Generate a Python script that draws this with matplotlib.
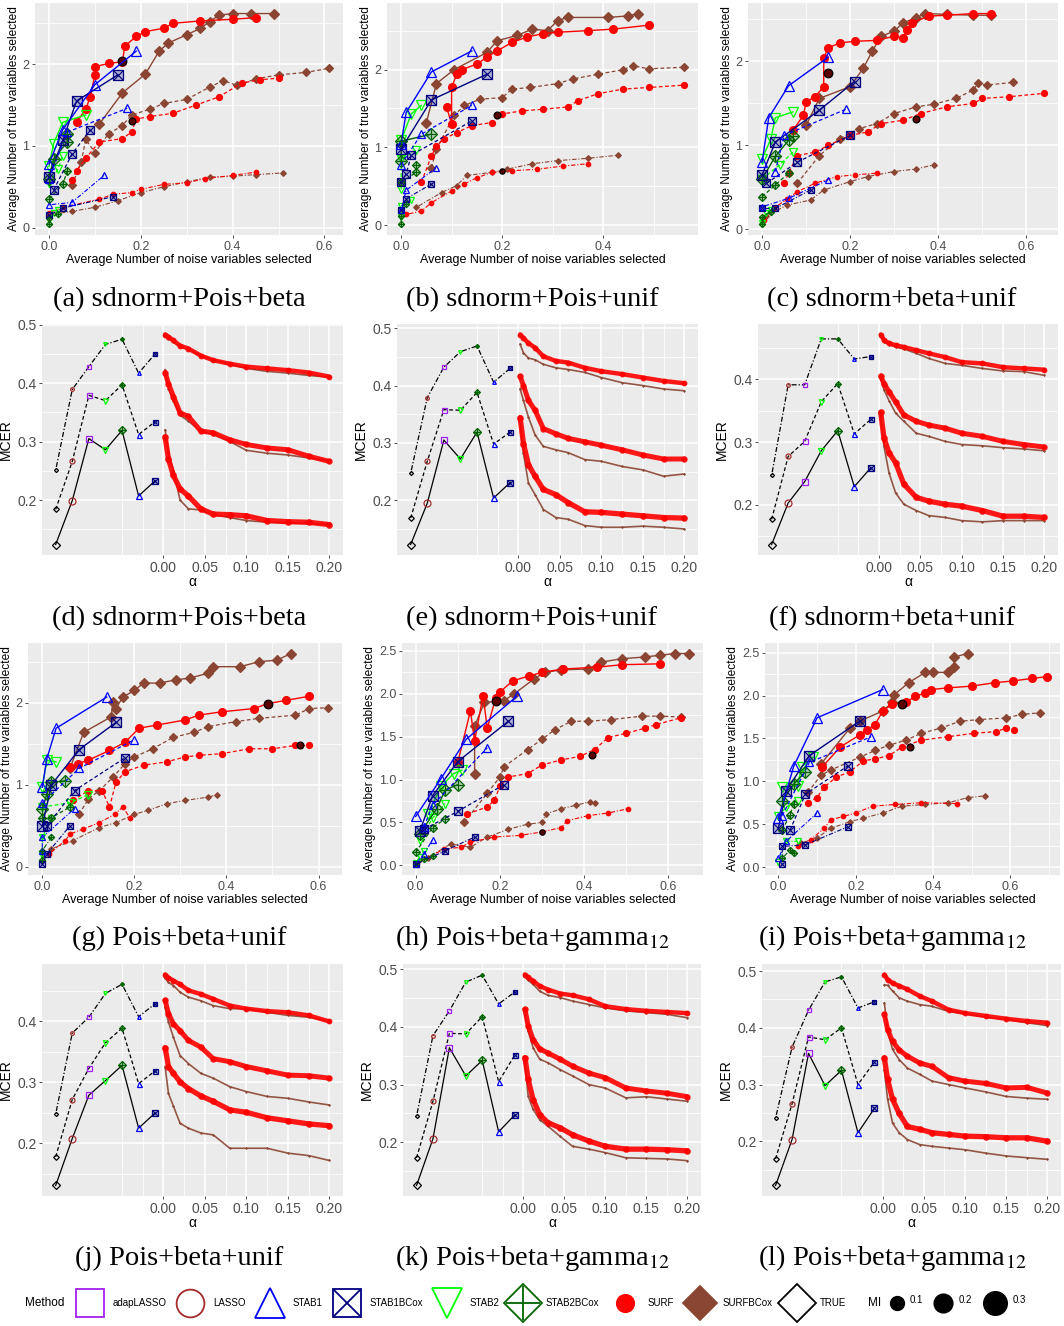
import numpy as np
import matplotlib
matplotlib.use("Agg")
import matplotlib.pyplot as plt

plt.rcParams["font.family"] = ["Liberation Sans", "DejaVu Sans"]
plt.rcParams["mathtext.fontset"] = "stix"

MI = [0.1, 0.2, 0.3]

# ---------------- selection panels: (noise, true) pairs, one curve per MI ----------------
a_surf = [
    [(0.0, 0.18), (0.03, 0.25), (0.11, 0.35), (0.14, 0.41), (0.18, 0.43), (0.2, 0.47), (0.25, 0.53), (0.3, 0.55), (0.34, 0.6), (0.4, 0.64), (0.45, 0.68)],
    [(0.05, 0.58), (0.06, 0.7), (0.08, 0.85), (0.11, 1.05), (0.16, 1.09), (0.18, 1.17), (0.19, 1.33), (0.22, 1.36), (0.27, 1.4), (0.32, 1.5), (0.37, 1.6), (0.42, 1.77), (0.46, 1.81), (0.5, 1.83)],
    [(0.06, 1.29), (0.08, 1.45), (0.09, 1.6), (0.1, 1.87), (0.1, 1.97), (0.13, 2.01), (0.16, 2.03), (0.165, 2.22), (0.19, 2.34), (0.21, 2.4), (0.25, 2.44), (0.27, 2.5), (0.33, 2.53), (0.4, 2.55), (0.45, 2.57)],
]
a_bcox = [
    [(0.0, 0.16), (0.05, 0.2), (0.1, 0.25), (0.15, 0.33), (0.2, 0.43), (0.25, 0.5), (0.3, 0.56), (0.35, 0.62), (0.4, 0.63), (0.45, 0.65), (0.51, 0.67)],
    [(0.05, 0.52), (0.07, 0.8), (0.08, 1.08), (0.1, 0.92), (0.13, 1.15), (0.16, 1.25), (0.18, 1.38), (0.22, 1.45), (0.25, 1.52), (0.3, 1.57), (0.35, 1.72), (0.38, 1.8), (0.41, 1.74), (0.45, 1.82), (0.5, 1.87), (0.56, 1.9), (0.61, 1.95)],
    [(0.11, 1.27), (0.16, 1.65), (0.21, 1.88), (0.24, 2.16), (0.26, 2.26), (0.3, 2.36), (0.33, 2.44), (0.35, 2.52), (0.37, 2.6), (0.4, 2.62), (0.44, 2.62), (0.49, 2.62)],
]
a_stab1 = [[(0.0, 0.28), (0.05, 0.31), (0.12, 0.64)], [(0.0, 0.6), (0.04, 1.17), (0.17, 1.46)], [(0.0, 0.78), (0.03, 1.2), (0.1, 1.75), (0.19, 2.16)]]
a_stab1b = [[(0.0, 0.15), (0.03, 0.24), (0.14, 0.38)], [(0.01, 0.46), (0.05, 0.9), (0.09, 1.2)], [(0.0, 0.62), (0.03, 1.07), (0.06, 1.55), (0.15, 1.87)]]
a_stab2 = [[(0.0, 0.1), (0.01, 0.18), (0.02, 0.22)], [(0.0, 0.55), (0.02, 0.72), (0.03, 0.88)], [(0.0, 0.75), (0.01, 1.03), (0.03, 1.29), (0.08, 1.38)]]
a_stab2b = [[(0.0, 0.04), (0.0, 0.12), (0.02, 0.17)], [(0.0, 0.35), (0.03, 0.53), (0.04, 0.7)], [(0.0, 0.6), (0.01, 0.84), (0.04, 1.05), (0.04, 1.15)]]
a_mark = [(0.18, 1.3, 1), (0.16, 2.04, 2)]

b_surf = [
    [(0.01, 0.14), (0.04, 0.18), (0.06, 0.29), (0.1, 0.44), (0.125, 0.53), (0.15, 0.61), (0.18, 0.68), (0.22, 0.7), (0.27, 0.72), (0.32, 0.76), (0.37, 0.79)],
    [(0.04, 0.55), (0.06, 0.89), (0.07, 1.02), (0.085, 1.11), (0.11, 1.19), (0.14, 1.28), (0.18, 1.32), (0.2, 1.43), (0.24, 1.47), (0.28, 1.49), (0.33, 1.52), (0.35, 1.6), (0.39, 1.69), (0.44, 1.75), (0.49, 1.77), (0.56, 1.8)],
    [(0.09, 1.52), (0.1, 1.3), (0.1, 1.77), (0.11, 1.94), (0.12, 2.0), (0.15, 2.07), (0.17, 2.16), (0.19, 2.24), (0.22, 2.35), (0.25, 2.42), (0.28, 2.46), (0.31, 2.48), (0.37, 2.5), (0.42, 2.52), (0.49, 2.57)],
]
b_bcox = [
    [(0.03, 0.23), (0.08, 0.42), (0.11, 0.51), (0.13, 0.64), (0.18, 0.68), (0.21, 0.72), (0.26, 0.79), (0.31, 0.83), (0.37, 0.86), (0.43, 0.9)],
    [(0.06, 0.74), (0.07, 0.98), (0.105, 1.41), (0.125, 1.54), (0.157, 1.62), (0.2, 1.64), (0.22, 1.75), (0.256, 1.77), (0.31, 1.82), (0.34, 1.88), (0.39, 1.94), (0.44, 2.0), (0.46, 2.05), (0.49, 2.01), (0.56, 2.03)],
    [(0.05, 1.32), (0.07, 1.82), (0.105, 2.0), (0.17, 2.22), (0.19, 2.37), (0.23, 2.44), (0.26, 2.52), (0.29, 2.5), (0.31, 2.63), (0.33, 2.67), (0.41, 2.67), (0.45, 2.69), (0.47, 2.72)],
]
b_stab1 = [[(0.0, 0.2), (0.01, 0.45), (0.07, 0.74)], [(0.0, 0.78), (0.04, 1.17), (0.14, 1.54)], [(0.0, 1.05), (0.01, 1.45), (0.06, 1.97), (0.14, 2.24)]]
b_stab1b = [[(0.0, 0.2), (0.01, 0.34), (0.06, 0.53)], [(0.0, 0.55), (0.01, 0.66), (0.02, 0.9), (0.14, 1.34)], [(0.0, 0.98), (0.06, 1.61), (0.17, 1.94)]]
b_stab2 = [[(0.0, 0.1), (0.0, 0.25), (0.02, 0.33)], [(0.0, 0.46), (0.0, 0.85), (0.03, 0.97)], [(0.0, 1.09), (0.02, 1.43), (0.04, 1.54)]]
b_stab2b = [[(0.0, 0.01), (0.0, 0.12), (0.01, 0.27)], [(0.0, 0.55), (0.03, 0.68), (0.03, 0.78)], [(0.0, 0.83), (0.0, 1.08), (0.06, 1.17)]]
b_mark = [(0.2, 0.7, 0), (0.19, 1.41, 1)]

c_surf = [
    [(0.004, 0.11), (0.026, 0.25), (0.056, 0.36), (0.08, 0.45), (0.12, 0.55), (0.17, 0.63), (0.21, 0.65), (0.26, 0.67)],
    [(0.05, 0.55), (0.06, 0.67), (0.08, 0.88), (0.12, 0.92), (0.15, 1.0), (0.2, 1.12), (0.24, 1.16), (0.27, 1.26), (0.32, 1.3), (0.36, 1.38), (0.42, 1.46), (0.48, 1.5), (0.5, 1.56), (0.56, 1.58), (0.64, 1.62)],
    [(0.07, 1.18), (0.094, 1.36), (0.1, 1.52), (0.12, 1.58), (0.14, 1.7), (0.14, 2.04), (0.15, 2.16), (0.176, 2.22), (0.21, 2.24), (0.26, 2.25), (0.3, 2.3), (0.32, 2.28), (0.33, 2.38), (0.34, 2.46), (0.38, 2.54), (0.42, 2.55), (0.48, 2.57), (0.52, 2.57)],
]
c_bcox = [
    [(0.01, 0.16), (0.056, 0.29), (0.11, 0.35), (0.14, 0.47), (0.2, 0.57), (0.24, 0.63), (0.3, 0.69), (0.35, 0.72), (0.39, 0.77)],
    [(0.08, 0.55), (0.13, 0.88), (0.176, 1.08), (0.22, 1.2), (0.26, 1.26), (0.3, 1.38), (0.35, 1.46), (0.39, 1.49), (0.44, 1.56), (0.48, 1.66), (0.49, 1.74), (0.51, 1.72), (0.57, 1.75)],
    [(0.1, 1.24), (0.13, 1.56), (0.2, 1.7), (0.23, 1.92), (0.25, 2.12), (0.27, 2.3), (0.3, 2.36), (0.32, 2.46), (0.35, 2.52), (0.37, 2.57), (0.42, 2.56), (0.48, 2.55), (0.52, 2.55)],
]
c_stab1 = [[(0.0, 0.27), (0.06, 0.37), (0.15, 0.59)], [(0.03, 0.69), (0.05, 1.12), (0.19, 1.43)], [(0.0, 0.8), (0.015, 1.33), (0.06, 1.71), (0.15, 2.05)]]
c_stab1b = [[(0.0, 0.25), (0.03, 0.25), (0.11, 0.47)], [(0.01, 0.55), (0.08, 0.8), (0.2, 1.12)], [(0.0, 0.65), (0.03, 1.04), (0.13, 1.42), (0.21, 1.76)]]
c_stab2 = [[(0.0, 0.08), (0.01, 0.2), (0.02, 0.23)], [(0.0, 0.6), (0.04, 0.77), (0.07, 0.92)], [(0.0, 0.84), (0.02, 1.08), (0.03, 1.33), (0.07, 1.4)]]
c_stab2b = [[(0.0, 0.06), (0.0, 0.15), (0.02, 0.21)], [(0.0, 0.39), (0.03, 0.53), (0.06, 0.67)], [(0.0, 0.6), (0.03, 0.87), (0.06, 1.06), (0.07, 1.11)]]
c_mark = [(0.35, 1.31, 1), (0.15, 1.86, 2)]

g_surf = [
    [(0.015, 0.16), (0.05, 0.32), (0.06, 0.4), (0.088, 0.46), (0.124, 0.54), (0.157, 0.64), (0.175, 0.73), (0.19, 0.6)],
    [(0.066, 0.81), (0.1, 0.93), (0.13, 0.93), (0.146, 0.73), (0.16, 1.03), (0.18, 1.16), (0.22, 1.24), (0.27, 1.28), (0.31, 1.34), (0.34, 1.36), (0.39, 1.38), (0.45, 1.44), (0.5, 1.44), (0.55, 1.48), (0.58, 1.48)],
    [(0.06, 1.22), (0.077, 1.26), (0.1, 1.3), (0.146, 1.42), (0.18, 1.52), (0.21, 1.69), (0.25, 1.73), (0.31, 1.79), (0.34, 1.85), (0.39, 1.89), (0.46, 1.93), (0.49, 1.99), (0.53, 2.03), (0.58, 2.08)],
]
g_bcox = [
    [(0.02, 0.22), (0.066, 0.32), (0.124, 0.48), (0.16, 0.54), (0.2, 0.64), (0.23, 0.69), (0.27, 0.77), (0.31, 0.81), (0.36, 0.85), (0.38, 0.88)],
    [(0.08, 0.64), (0.1, 0.83), (0.124, 0.93), (0.153, 1.09), (0.18, 1.26), (0.2, 1.34), (0.24, 1.44), (0.285, 1.58), (0.33, 1.64), (0.36, 1.71), (0.42, 1.77), (0.47, 1.81), (0.55, 1.85), (0.58, 1.93), (0.62, 1.94)],
    [(0.06, 1.2), (0.09, 1.64), (0.15, 1.83), (0.153, 2.01), (0.16, 1.93), (0.175, 2.07), (0.2, 2.15), (0.22, 2.24), (0.255, 2.24), (0.29, 2.28), (0.32, 2.3), (0.36, 2.36), (0.37, 2.44), (0.43, 2.44), (0.47, 2.5), (0.51, 2.52), (0.54, 2.6)],
]
g_stab1 = [[(0.0, 0.2), (0.0, 0.36), (0.07, 0.71)], [(0.0, 0.78), (0.08, 1.2), (0.2, 1.55)], [(0.0, 0.97), (0.01, 1.32), (0.03, 1.69), (0.14, 2.07)]]
g_stab1b = [[(0.0, 0.03), (0.01, 0.16), (0.06, 0.5)], [(0.01, 0.5), (0.07, 0.93), (0.18, 1.33)], [(0.0, 0.5), (0.02, 1.0), (0.08, 1.43), (0.16, 1.76)]]
g_stab2 = [[(0.0, 0.15), (0.0, 0.36), (0.02, 0.6)], [(0.0, 0.73), (0.06, 0.78), (0.1, 0.88)], [(0.0, 0.97), (0.01, 1.3), (0.03, 1.28)]]
g_stab2b = [[(0.0, 0.09), (0.0, 0.2), (0.02, 0.36)], [(0.0, 0.6), (0.02, 0.6), (0.06, 0.73)], [(0.0, 0.7), (0.01, 0.89), (0.02, 1.03), (0.05, 1.05)]]
g_mark = [(0.56, 1.48, 1), (0.49, 1.98, 2)]

h_surf = [
    [(0.004, 0.03), (0.068, 0.19), (0.107, 0.21), (0.13, 0.27), (0.187, 0.33), (0.25, 0.35), (0.3, 0.39), (0.346, 0.44), (0.36, 0.52), (0.41, 0.58), (0.457, 0.61), (0.505, 0.66)],
    [(0.123, 0.6), (0.17, 0.68), (0.187, 0.76), (0.2, 0.92), (0.22, 1.03), (0.266, 1.07), (0.3, 1.17), (0.346, 1.23), (0.39, 1.27), (0.425, 1.35), (0.457, 1.49), (0.5, 1.54), (0.545, 1.6), (0.57, 1.64), (0.63, 1.72)],
    [(0.1, 1.2), (0.13, 1.8), (0.14, 1.45), (0.16, 1.98), (0.17, 1.6), (0.19, 1.95), (0.2, 2.02), (0.23, 2.15), (0.27, 2.21), (0.3, 2.25), (0.35, 2.29), (0.43, 2.31), (0.49, 2.34), (0.58, 2.35)],
]
h_bcox = [
    [(0.03, 0.09), (0.083, 0.25), (0.13, 0.21), (0.17, 0.33), (0.22, 0.42), (0.266, 0.48), (0.3, 0.5), (0.31, 0.6), (0.346, 0.66), (0.38, 0.7), (0.413, 0.74), (0.425, 0.73)],
    [(0.115, 0.5), (0.17, 0.84), (0.2, 1.03), (0.21, 1.15), (0.266, 1.35), (0.3, 1.47), (0.33, 1.58), (0.37, 1.68), (0.41, 1.68), (0.465, 1.7), (0.537, 1.74), (0.58, 1.74), (0.63, 1.73)],
    [(0.14, 1.07), (0.14, 1.62), (0.163, 1.9), (0.21, 1.92), (0.234, 2.0), (0.28, 2.17), (0.306, 2.25), (0.346, 2.28), (0.41, 2.29), (0.44, 2.37), (0.49, 2.41), (0.545, 2.43), (0.58, 2.45), (0.616, 2.47), (0.65, 2.47)],
]
h_stab1 = [[(0.0, 0.02), (0.02, 0.13), (0.04, 0.3)], [(0.02, 0.45), (0.04, 0.7), (0.17, 1.37)], [(0.0, 0.57), (0.06, 1.01), (0.12, 1.47), (0.24, 1.97)]]
h_stab1b = [[(0.0, 0.01), (0.07, 0.17), (0.14, 0.33)], [(0.02, 0.42), (0.1, 0.63), (0.21, 0.94)], [(0.01, 0.4), (0.04, 0.81), (0.1, 1.21), (0.22, 1.68)]]
h_stab2 = [[(0.0, 0.03), (0.01, 0.1), (0.02, 0.17)], [(0.01, 0.29), (0.04, 0.55), (0.07, 0.72)], [(0.03, 0.6), (0.06, 0.92), (0.09, 1.07), (0.11, 1.11)]]
h_stab2b = [[(0.0, 0.01), (0.02, 0.07), (0.04, 0.11)], [(0.0, 0.15), (0.04, 0.44), (0.07, 0.54)], [(0.01, 0.37), (0.05, 0.66), (0.07, 0.88), (0.1, 0.94)]]
h_mark = [(0.3, 0.39, 0), (0.42, 1.29, 1), (0.19, 1.92, 2)]

i_surf = [
    [(0.05, 0.24), (0.084, 0.32), (0.118, 0.45), (0.135, 0.55), (0.168, 0.59), (0.2, 0.63), (0.244, 0.71), (0.303, 0.73), (0.37, 0.75), (0.463, 0.74)],
    [(0.076, 0.75), (0.1, 0.81), (0.118, 0.93), (0.15, 1.05), (0.185, 1.11), (0.22, 1.24), (0.25, 1.26), (0.286, 1.3), (0.32, 1.4), (0.37, 1.48), (0.44, 1.52), (0.505, 1.56), (0.564, 1.58), (0.59, 1.62), (0.61, 1.6)],
    [(0.114, 1.17), (0.16, 1.4), (0.21, 1.54), (0.23, 1.6), (0.25, 1.66), (0.27, 1.82), (0.295, 1.9), (0.33, 1.92), (0.354, 1.99), (0.38, 2.03), (0.395, 2.07), (0.44, 2.09), (0.5, 2.11), (0.56, 2.15), (0.606, 2.17), (0.657, 2.2), (0.694, 2.22)],
]
i_bcox = [
    [(0.059, 0.28), (0.1, 0.34), (0.135, 0.45), (0.185, 0.53), (0.22, 0.57), (0.27, 0.63), (0.32, 0.71), (0.38, 0.73), (0.44, 0.75), (0.49, 0.81), (0.535, 0.83)],
    [(0.076, 0.87), (0.11, 1.07), (0.135, 1.13), (0.21, 1.28), (0.25, 1.36), (0.286, 1.42), (0.33, 1.48), (0.37, 1.56), (0.42, 1.62), (0.47, 1.7), (0.52, 1.72), (0.59, 1.74), (0.63, 1.78), (0.678, 1.8)],
    [(0.11, 1.2), (0.185, 1.62), (0.21, 1.7), (0.27, 1.82), (0.295, 1.92), (0.3, 2.01), (0.337, 2.15), (0.38, 2.27), (0.4, 2.27), (0.44, 2.27), (0.455, 2.33), (0.455, 2.45), (0.49, 2.49)],
]
i_stab1 = [[(0.0, 0.1), (0.02, 0.3), (0.1, 0.63)], [(0.01, 0.6), (0.08, 1.22), (0.24, 1.52)], [(0.0, 0.57), (0.04, 1.18), (0.1, 1.74), (0.27, 2.07)]]
i_stab1b = [[(0.01, 0.03), (0.01, 0.24), (0.07, 0.26), (0.18, 0.47)], [(0.03, 0.43), (0.07, 0.85), (0.18, 1.18)], [(0.0, 0.45), (0.02, 0.89), (0.08, 1.3), (0.21, 1.7)]]
i_stab2 = [[(0.0, 0.06), (0.02, 0.3), (0.05, 0.3)], [(0.0, 0.59), (0.02, 0.7), (0.05, 0.77)], [(0.01, 0.93), (0.05, 0.95), (0.06, 1.17), (0.09, 1.28)]]
i_stab2b = [[(0.01, 0.1), (0.03, 0.2), (0.04, 0.16)], [(0.01, 0.43), (0.03, 0.61), (0.04, 0.74)], [(0.01, 0.77), (0.04, 0.97), (0.07, 1.11)]]
i_mark = [(0.34, 1.4, 1), (0.32, 1.9, 2)]

# ---------------- MCER panels ----------------
alpha = [0.002, 0.006, 0.012, 0.02, 0.03, 0.045, 0.06, 0.08, 0.10, 0.125, 0.15, 0.175, 0.2]
disc_methods = ["TRUE", "LASSO", "adapLASSO", "STAB2", "STAB2BCox", "STAB1", "STAB1BCox"]

d_disc = [[0.251, 0.389, 0.428, 0.466, 0.475, 0.417, 0.450],
          [0.184, 0.266, 0.379, 0.370, 0.397, 0.312, 0.334],
          [0.124, 0.199, 0.305, 0.286, 0.319, 0.207, 0.233]]
d_surf = [[0.483, 0.479, 0.473, 0.464, 0.459, 0.447, 0.439, 0.433, 0.428, 0.425, 0.422, 0.418, 0.411],
          [0.418, 0.399, 0.377, 0.349, 0.343, 0.318, 0.315, 0.303, 0.295, 0.289, 0.286, 0.275, 0.266],
          [0.308, 0.270, 0.242, 0.219, 0.207, 0.185, 0.176, 0.175, 0.173, 0.165, 0.163, 0.162, 0.158]]
d_bcox = [[0.480, 0.476, 0.470, 0.462, 0.458, 0.447, 0.440, 0.432, 0.425, 0.420, 0.417, 0.413, 0.410],
          [0.423, 0.390, 0.370, 0.345, 0.335, 0.318, 0.312, 0.300, 0.285, 0.280, 0.277, 0.272, 0.267],
          [0.320, 0.280, 0.250, 0.200, 0.185, 0.183, 0.175, 0.170, 0.165, 0.162, 0.161, 0.160, 0.158]]

e_disc = [[0.247, 0.379, 0.432, 0.459, 0.469, 0.406, 0.430],
          [0.169, 0.268, 0.358, 0.357, 0.388, 0.298, 0.319],
          [0.123, 0.195, 0.305, 0.272, 0.319, 0.204, 0.231]]
e_surf = [[0.489, 0.483, 0.474, 0.466, 0.451, 0.443, 0.440, 0.431, 0.425, 0.420, 0.414, 0.408, 0.404],
          [0.416, 0.400, 0.374, 0.357, 0.325, 0.316, 0.308, 0.302, 0.296, 0.288, 0.279, 0.272, 0.272],
          [0.344, 0.299, 0.262, 0.242, 0.219, 0.210, 0.196, 0.180, 0.179, 0.176, 0.173, 0.170, 0.169]]
e_bcox = [[0.472, 0.457, 0.448, 0.445, 0.437, 0.431, 0.428, 0.423, 0.414, 0.405, 0.400, 0.394, 0.391],
          [0.394, 0.374, 0.345, 0.314, 0.294, 0.288, 0.283, 0.271, 0.268, 0.259, 0.253, 0.242, 0.246],
          [0.334, 0.282, 0.230, 0.210, 0.184, 0.170, 0.167, 0.156, 0.153, 0.153, 0.155, 0.153, 0.150]]

f_disc = [[0.247, 0.391, 0.391, 0.464, 0.464, 0.432, 0.436],
          [0.177, 0.277, 0.301, 0.364, 0.393, 0.313, 0.336],
          [0.137, 0.203, 0.237, 0.286, 0.318, 0.229, 0.259]]
f_surf = [[0.471, 0.462, 0.457, 0.454, 0.451, 0.446, 0.441, 0.435, 0.427, 0.425, 0.419, 0.417, 0.415],
          [0.405, 0.393, 0.380, 0.364, 0.343, 0.333, 0.327, 0.322, 0.314, 0.309, 0.301, 0.296, 0.292],
          [0.347, 0.306, 0.283, 0.267, 0.233, 0.212, 0.206, 0.201, 0.198, 0.191, 0.182, 0.182, 0.180]]
f_bcox = [[0.469, 0.459, 0.455, 0.451, 0.448, 0.441, 0.433, 0.425, 0.422, 0.417, 0.413, 0.412, 0.406],
          [0.401, 0.383, 0.366, 0.346, 0.333, 0.314, 0.309, 0.301, 0.296, 0.294, 0.291, 0.289, 0.286],
          [0.341, 0.293, 0.251, 0.219, 0.201, 0.191, 0.183, 0.180, 0.175, 0.173, 0.175, 0.175, 0.175]]

j_disc = [[0.248, 0.381, 0.407, 0.446, 0.461, 0.408, 0.429],
          [0.178, 0.272, 0.323, 0.365, 0.389, 0.298, 0.319],
          [0.131, 0.208, 0.279, 0.303, 0.328, 0.225, 0.250]]
j_surf = [[0.477, 0.472, 0.467, 0.461, 0.451, 0.445, 0.437, 0.426, 0.421, 0.417, 0.415, 0.410, 0.400],
          [0.435, 0.413, 0.396, 0.385, 0.369, 0.358, 0.339, 0.334, 0.326, 0.319, 0.312, 0.311, 0.307],
          [0.357, 0.326, 0.315, 0.301, 0.290, 0.278, 0.269, 0.255, 0.251, 0.242, 0.237, 0.232, 0.229]]
j_bcox = [[0.471, 0.464, 0.459, 0.448, 0.440, 0.434, 0.426, 0.421, 0.421, 0.415, 0.410, 0.407, 0.401],
          [0.423, 0.399, 0.374, 0.344, 0.331, 0.315, 0.307, 0.293, 0.285, 0.277, 0.274, 0.268, 0.263],
          [0.326, 0.282, 0.261, 0.233, 0.225, 0.217, 0.214, 0.192, 0.192, 0.192, 0.184, 0.180, 0.172]]

k_disc = [[0.245, 0.385, 0.428, 0.478, 0.490, 0.440, 0.461],
          [0.173, 0.271, 0.389, 0.388, 0.418, 0.305, 0.352],
          [0.125, 0.206, 0.364, 0.315, 0.342, 0.218, 0.248]]
k_surf = [[0.491, 0.486, 0.480, 0.471, 0.465, 0.458, 0.455, 0.448, 0.436, 0.431, 0.428, 0.426, 0.424],
          [0.431, 0.402, 0.378, 0.362, 0.355, 0.344, 0.332, 0.320, 0.312, 0.294, 0.289, 0.285, 0.279],
          [0.347, 0.309, 0.274, 0.248, 0.234, 0.225, 0.213, 0.202, 0.193, 0.188, 0.188, 0.187, 0.185]]
k_bcox = [[0.488, 0.481, 0.474, 0.462, 0.455, 0.451, 0.445, 0.439, 0.433, 0.428, 0.425, 0.422, 0.416],
          [0.422, 0.393, 0.364, 0.344, 0.338, 0.326, 0.315, 0.300, 0.294, 0.277, 0.279, 0.275, 0.271],
          [0.338, 0.280, 0.257, 0.239, 0.228, 0.210, 0.193, 0.188, 0.182, 0.173, 0.172, 0.171, 0.168]]

l_disc = [[0.241, 0.366, 0.431, 0.481, 0.490, 0.435, 0.446],
          [0.169, 0.266, 0.384, 0.379, 0.400, 0.300, 0.340],
          [0.122, 0.203, 0.355, 0.298, 0.325, 0.215, 0.258]]
l_surf = [[0.494, 0.485, 0.479, 0.474, 0.468, 0.456, 0.447, 0.432, 0.426, 0.421, 0.416, 0.412, 0.409],
          [0.424, 0.397, 0.376, 0.361, 0.350, 0.338, 0.332, 0.312, 0.306, 0.302, 0.294, 0.295, 0.285],
          [0.347, 0.309, 0.274, 0.249, 0.226, 0.221, 0.215, 0.212, 0.209, 0.208, 0.206, 0.206, 0.200]]
l_bcox = [[0.476, 0.475, 0.465, 0.453, 0.447, 0.441, 0.438, 0.429, 0.425, 0.419, 0.415, 0.409, 0.404],
          [0.444, 0.394, 0.362, 0.344, 0.329, 0.318, 0.306, 0.300, 0.294, 0.287, 0.279, 0.276, 0.274],
          [0.326, 0.274, 0.232, 0.215, 0.203, 0.194, 0.191, 0.188, 0.185, 0.179, 0.174, 0.171, 0.168]]

captions = ["(a) sdnorm+Pois+beta", "(b) sdnorm+Pois+unif", "(c) sdnorm+beta+unif",
            "(d) sdnorm+Pois+beta", "(e) sdnorm+Pois+unif", "(f) sdnorm+beta+unif",
            "(g) Pois+beta+unif", "(h) Pois+beta+gamma$_{12}$", "(i) Pois+beta+gamma$_{12}$",
            "(j) Pois+beta+unif", "(k) Pois+beta+gamma$_{12}$", "(l) Pois+beta+gamma$_{12}$"]

# ---------------- styles ----------------
COL = {"adapLASSO": "#A020F0", "LASSO": "#A52A2A", "STAB1": "#0000FF", "STAB1BCox": "#000080",
       "STAB2": "#00FF00", "STAB2BCox": "#006400", "SURF": "#FF0000", "SURFBCox": "#8B4533",
       "TRUE": "#000000"}
MK = {"adapLASSO": ("s", None, False), "LASSO": ("o", None, False), "STAB1": ("^", None, False),
      "STAB1BCox": ("s", "x", False), "STAB2": ("v", None, False), "STAB2BCox": ("D", "+", False),
      "SURF": ("o", None, True), "SURFBCox": ("D", None, True), "TRUE": ("D", None, False)}
LS = [(0, (1, 1.6, 4, 1.6)), (0, (3, 2)), "-"]
BG = "#EBEBEB"
TICK_C = "#4D4D4D"

W, H = 1064, 1326
fig = plt.figure(figsize=(W / 100, H / 100), dpi=100)


def box(l, t, r, b):
    return fig.add_axes([l / W, 1 - b / H, (r - l) / W, (b - t) / H])


def style(ax, fs):
    ax.set_facecolor(BG)
    for s in ax.spines.values():
        s.set_visible(False)
    ax.set_axisbelow(True)
    ax.grid(which="major", color="white", lw=1.1)
    ax.grid(which="minor", color="white", lw=0.55)
    ax.tick_params(which="major", length=2.5, width=0.6, color="#333333",
                   labelsize=fs, labelcolor=TICK_C, pad=1.5)
    ax.tick_params(which="minor", length=0)


def points(ax, xs, ys, method, ms, z=3):
    m, inner, filled = MK[method]
    c = COL[method]
    size = ms * (0.8 if m == "D" else 1.0)
    fc = c if filled else "none"
    if method in ("STAB1BCox", "STAB2BCox"):
        fc = matplotlib.colors.to_rgba(c, 0.25)
    ax.plot(xs, ys, ls="none", marker=m, ms=size, mec=c, mfc=fc, mew=0.9, zorder=z)
    if inner:
        ax.plot(xs, ys, ls="none", marker=inner, ms=size * (0.95 if inner == "x" else 1.3),
                mec=c, mew=0.8, zorder=z + 0.1)


def expand(lo, hi, f=0.05):
    d = (hi - lo) * f
    return lo - d, hi + d


def inside(vals, lim):
    return [v for v in vals if lim[0] - 1e-9 <= v <= lim[1] + 1e-9]


# ---------------- selection panels ----------------
roc = [("a", a_surf, a_bcox, a_stab1, a_stab1b, a_stab2, a_stab2b, a_mark, (35, 3, 343, 235), 1),
       ("b", b_surf, b_bcox, b_stab1, b_stab1b, b_stab2, b_stab2b, b_mark, (387, 3, 698, 235), 1),
       ("c", c_surf, c_bcox, c_stab1, c_stab1b, c_stab2, c_stab2b, c_mark, (748, 3, 1058, 235), 1),
       ("g", g_surf, g_bcox, g_stab1, g_stab1b, g_stab2, g_stab2b, g_mark, (28, 643, 342, 875), 1),
       ("h", h_surf, h_bcox, h_stab1, h_stab1b, h_stab2, h_stab2b, h_mark, (402, 643, 703, 875), 0.5),
       ("i", i_surf, i_bcox, i_stab1, i_stab1b, i_stab2, i_stab2b, i_mark, (765, 643, 1060, 875), 0.5)]

ROC_MS = {"SURF": [3.2, 4.3, 5.6], "SURFBCox": [3.6, 4.8, 6.2], "STAB": [4.0, 5.5, 7.2]}
ROC_LW = [0.8, 0.9, 1.0]

for key, surf, bcox, s1, s1b, s2, s2b, marks, pos, ystep in roc:
    ax = box(*pos)
    style(ax, 9)
    groups = [("SURFBCox", bcox), ("SURF", surf), ("STAB2", s2), ("STAB2BCox", s2b),
              ("STAB1BCox", s1b), ("STAB1", s1)]
    allx, ally = [], []
    for method, curves in groups:
        for k, cur in enumerate(curves):
            xs = [p[0] for p in cur]
            ys = [p[1] for p in cur]
            allx += xs
            ally += ys
            ms = ROC_MS.get(method, ROC_MS["STAB"])[k]
            z = 2 if method.startswith("SURF") else 4
            ax.plot(xs, ys, color=COL[method], ls=LS[k], lw=ROC_LW[k], zorder=z)
            points(ax, xs, ys, method, ms, z=z)
    for x, y, k in marks:
        ax.plot([x], [y], ls="none", marker="o", ms=ROC_MS["SURF"][k] + 0.6,
                mfc="#5a0000", mec="black", mew=0.9, zorder=3)
    xl = expand(min(allx), max(allx))
    yl = expand(min(ally), max(ally))
    ax.set_xlim(*xl)
    ax.set_ylim(*yl)
    xt = inside(np.arange(0, 0.61, 0.2), xl)
    ax.set_xticks(xt)
    ax.set_xticks(inside(np.arange(0.1, 0.71, 0.2), xl), minor=True)
    ax.set_xticklabels([f"{v:.1f}" for v in xt])
    yt = inside(np.arange(0, 2.51, ystep), yl)
    ax.set_yticks(yt)
    ax.set_yticks(inside(np.arange(ystep / 2, 2.8, ystep), yl), minor=True)
    ax.set_yticklabels([f"{v:.0f}" if ystep == 1 else f"{v:.1f}" for v in yt])
    ax.set_xlabel("Average Number of noise variables selected", fontsize=9, labelpad=1)
    ax.set_ylabel("Average Number of true variables selected", fontsize=8.6, labelpad=2)

# ---------------- MCER panels ----------------
mcer = [("d", d_disc, d_surf, d_bcox, (42, 324, 343, 555)),
        ("e", e_disc, e_surf, e_bcox, (397, 324, 698, 555)),
        ("f", f_disc, f_surf, f_bcox, (758, 324, 1058, 555)),
        ("j", j_disc, j_surf, j_bcox, (42, 964, 343, 1196)),
        ("k", k_disc, k_surf, k_bcox, (403, 964, 701, 1196)),
        ("l", l_disc, l_surf, l_bcox, (762, 964, 1061, 1196))]

disc_x = -0.13 + 0.02 * np.arange(len(disc_methods))
DISC_MS = [2.6, 3.6, 5.0]
SURF_LW = [3.2, 3.6, 3.8]

for key, disc, surf, bcox, pos in mcer:
    ax = box(*pos)
    style(ax, 10)
    for k in range(3):
        ax.plot(disc_x, disc[k], color="black", ls=LS[k], lw=0.9, zorder=3)
        for j, method in enumerate(disc_methods):
            points(ax, [disc_x[j]], [disc[k][j]], method, DISC_MS[k], z=4)
        ax.plot(alpha, bcox[k], color=COL["SURFBCox"], lw=1.2, alpha=0.9, zorder=2,
                marker="D", ms=1.6, mew=0)
        ax.plot(alpha, surf[k], color=COL["SURF"], lw=SURF_LW[k], alpha=0.9, zorder=2.5,
                solid_capstyle="round", marker="o", ms=SURF_LW[k] + 1.0, mew=0)
    allv = [v for grp in (disc, surf, bcox) for row in grp for v in row]
    xl = expand(disc_x[0], alpha[-1])
    yl = expand(min(allv), max(allv))
    ax.set_xlim(*xl)
    ax.set_ylim(*yl)
    xt = np.arange(0, 0.201, 0.05)
    ax.set_xticks(xt)
    ax.set_xticklabels([f"{v:.2f}" for v in xt])
    ax.set_xticks([-0.05, -0.025, 0.025, 0.075, 0.125, 0.175], minor=True)
    yt = inside(np.arange(0.2, 0.51, 0.1), yl)
    ax.set_yticks(yt)
    ax.set_yticks(inside(np.arange(0.15, 0.51, 0.1), yl), minor=True)
    ax.set_yticklabels([f"{v:.1f}" for v in yt])
    ax.set_xlabel("α", fontsize=10, labelpad=0)
    ax.set_ylabel("MCER", fontsize=10, labelpad=3)

# ---------------- captions ----------------
cap_x = [179, 532, 892]
cap_y = [300, 619, 938, 1258]
for n, text in enumerate(captions):
    fig.text(cap_x[n % 3] / W, 1 - cap_y[n // 3] / H, text, ha="center", va="center",
             fontsize=20.5, family="Liberation Serif")

# ---------------- legend ----------------
leg = fig.add_axes([0, 0, 1, 46 / H])
leg.set_xlim(0, W)
leg.set_ylim(46, 0)
leg.axis("off")
leg_methods = ["adapLASSO", "LASSO", "STAB1", "STAB1BCox", "STAB2", "STAB2BCox", "SURF", "SURFBCox", "TRUE"]
key_x = [90, 190, 270, 347, 447, 523, 625, 700, 797]
key_ms = [20, 20, 21, 20, 21, 19, 12.5, 17, 19]
yc = 23
leg.text(25, yc, "Method", fontsize=8.5, va="center", ha="left")
for method, kx, ms in zip(leg_methods, key_x, key_ms):
    m, inner, filled = MK[method]
    c = COL[method]
    leg.plot([kx], [yc], marker=m, ms=ms, mec=c, mfc=c if filled else "none", mew=1.3, ls="none")
    if inner:
        leg.plot([kx], [yc], marker=inner, ms=ms * (0.95 if inner == "x" else 1.3), mec=c, mew=1.3, ls="none")
    leg.text(kx + 23, yc, method, fontsize=7, va="center", ha="left")
leg.text(868, yc, "MI", fontsize=8.5, va="center", ha="left")
for v, kx, ms in zip(MI, [897, 943, 995], [10, 13.5, 17]):
    leg.plot([kx], [yc], marker="o", ms=ms, color="black", ls="none")
    leg.text(kx + ms * 0.7 + 6, yc - 3, f"{v}", fontsize=7, va="center", ha="left")

fig.savefig("out.png", dpi=100)
